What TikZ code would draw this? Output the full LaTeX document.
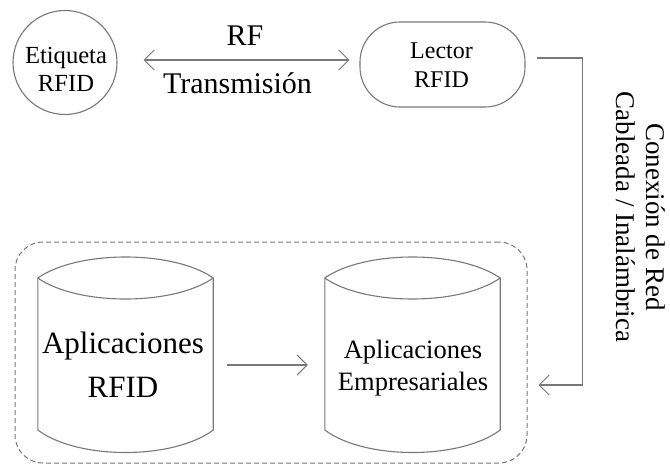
\documentclass[tikz,border=0pt]{standalone}
\usepackage{fontspec}
\setmainfont{Liberation Serif}
\usetikzlibrary{arrows.meta}
\definecolor{linegray}{RGB}{120,120,120}
\tikzset{
  shapeline/.style={draw=linegray, line width=1.1pt},
  conn/.style={draw=linegray, line width=1.1pt, -{Straight Barb[length=10pt,width=20pt,line width=1pt]}},
  conntwo/.style={draw=linegray, line width=1.1pt, {Straight Barb[length=10pt,width=20pt,line width=1pt]}-{Straight Barb[length=10pt,width=20pt,line width=1pt]}},
  txt/.style={inner sep=0pt, align=center, text=black},
  cylbox/.style={minimum width=175pt, minimum height=195pt, inner sep=0pt},
}
\newcommand{\cylout}[1]{%
  \draw[shapeline]
    (#1.west |- 0,278) .. controls ([xshift=40pt]#1.west |- 0,250) and ([xshift=-40pt]#1.east |- 0,250) .. (#1.east |- 0,278)
    -- (#1.east |- 0,430) .. controls ([xshift=-40pt]#1.east |- 0,460) and ([xshift=40pt]#1.west |- 0,460) .. (#1.west |- 0,430)
    -- cycle;
  \draw[shapeline]
    (#1.west |- 0,278) .. controls ([xshift=40pt]#1.west |- 0,306) and ([xshift=-40pt]#1.east |- 0,306) .. (#1.east |- 0,278);
}
\begin{document}
\begin{tikzpicture}[x=1pt,y=-1pt]
\useasboundingbox (0,0) rectangle (670,466);
\fill[white] (0,0) rectangle (670,466);

% Etiqueta RFID
\node[circle, shapeline, minimum size=104pt, inner sep=0pt] (tag) at (65,62.5) {};
\node[txt, anchor=base, font=\fontsize{24.6}{28}\selectfont] (tagtxt) at (66,91) {Etiqueta\\RFID};

% Lector RFID
\node[shapeline, rounded corners=40pt, minimum width=165pt, minimum height=85pt, inner sep=0pt] (lector) at (442.5,64.5) {};
\node[txt, anchor=base, font=\fontsize{24}{29}\selectfont] (lectortxt) at (441.5,87) {Lector\\RFID};

% RF transmission
\draw[conntwo] ([shift={(26,-2.5)}]tag.east) -- ([shift={(-10,-4.5)}]lector.west);
\node[txt, anchor=base, font=\fontsize{30}{30}\selectfont] (rf) at (245,45) {RF};
\node[txt, anchor=base, font=\fontsize{30}{30}\selectfont] (trans) at (237.5,93) {Transmisión};

% Dashed container
\node[draw=linegray, line width=1pt, dash pattern=on 5pt off 3pt, rounded corners=28pt, minimum width=512pt, minimum height=221pt, inner sep=0pt] (grupo) at (271,352.5) {};

% Cylinders
\node[cylbox] (cylL) at (125.5,354.5) {};
\cylout{cylL}
\node[txt, anchor=base, font=\fontsize{31}{44}\selectfont] (cylLtxt) at (123,397) {Aplicaciones\\RFID};

\node[cylbox] (cylR) at (412.5,354.5) {};
\cylout{cylR}
\node[txt, anchor=base, font=\fontsize{26.5}{32}\selectfont] (cylRtxt) at (413,390) {Aplicaciones\\Empresariales};

\draw[conn] ([xshift=14pt,yshift=-10.5pt]cylL.east) -- ([xshift=-17pt,yshift=-10.5pt]cylR.west);

% Network connection
\draw[conn] ([shift={(11,-6.5)}]lector.east) -- ++(46,0) |- ([shift={(11,32.5)}]grupo.east);
\node[txt, rotate=-90, font=\fontsize{27}{30}\selectfont] (red) at (641,217) {Conexión de Red\\Cableada / Inalámbrica};
\end{tikzpicture}
\end{document}
